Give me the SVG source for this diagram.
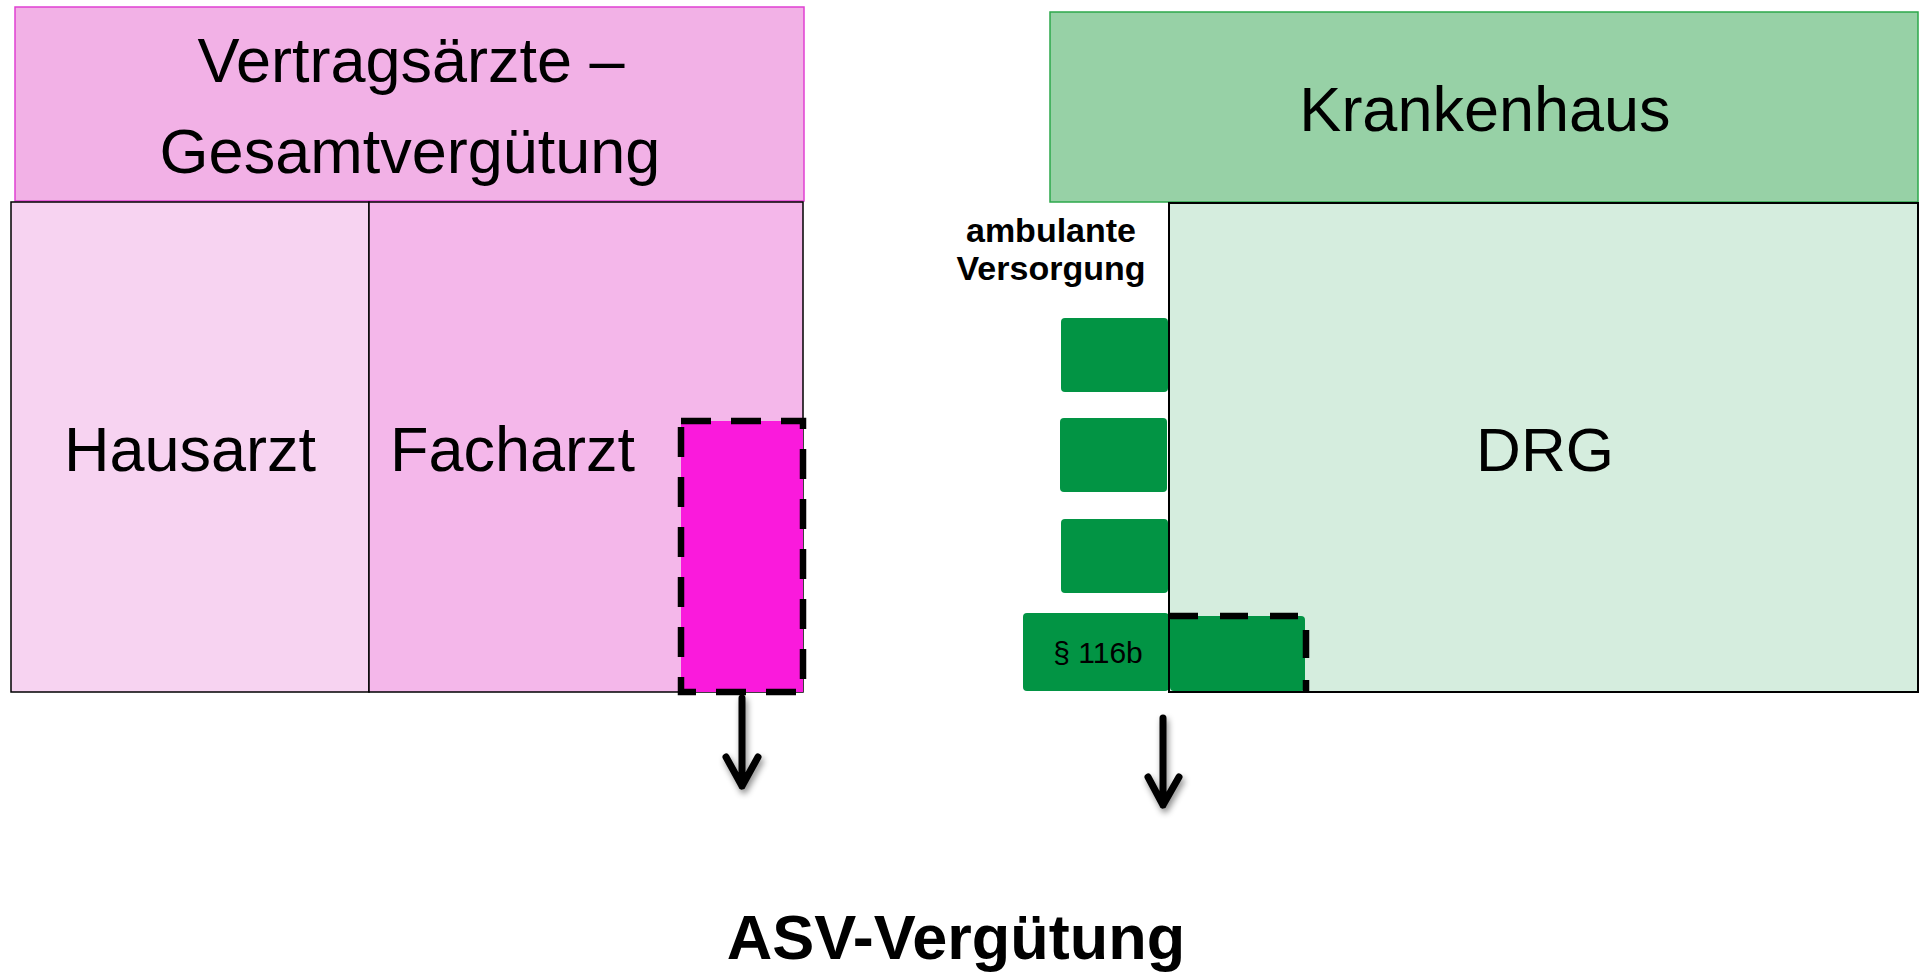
<svg xmlns="http://www.w3.org/2000/svg" width="1926" height="972" viewBox="0 0 1926 972">
  <defs>
    <filter id="shadow" x="-50%" y="-50%" width="200%" height="200%">
      <feDropShadow dx="2" dy="4" stdDeviation="3" flood-color="#000" flood-opacity="0.45"/>
    </filter>
    <style>
      .t { font-family: "Liberation Sans", Arial, sans-serif; fill: #000; }
      .big { font-size: 63px; }
      .bold { font-weight: bold; }
      .box { stroke: #000; stroke-width: 1.5; }
      .green { fill: #029444; }
      .dash { fill: none; stroke: #000; stroke-dasharray: 30 20; }
      .arrow { fill: none; stroke: #000; stroke-width: 7; stroke-linecap: round; stroke-linejoin: round; filter: url(#shadow); }
    </style>
  </defs>
  <rect width="1926" height="972" fill="#fff"/>

  <g id="vertragsaerzte">
    <rect x="15" y="7" width="789" height="194" fill="#F2B1E6" stroke="#E040D2" stroke-width="1.5"/>
    <text class="t big" x="411" y="82" text-anchor="middle">Vertragsärzte –</text>
    <text class="t big" x="410" y="173" text-anchor="middle">Gesamtvergütung</text>
  </g>

  <g id="hausarzt">
    <rect class="box" x="11" y="202" width="358" height="490" fill="#F7D3F1"/>
    <text class="t big" x="190" y="471" text-anchor="middle">Hausarzt</text>
  </g>

  <g id="facharzt">
    <rect class="box" x="369" y="202" width="434" height="490" fill="#F4B7EA"/>
    <text class="t big" x="390" y="471">Facharzt</text>
  </g>

  <g id="asv-facharzt">
    <rect x="681" y="421" width="122" height="271" fill="#FA1ADC"/>
    <rect class="dash" x="681" y="421" width="122" height="271" stroke-width="6.5"/>
  </g>

  <g id="krankenhaus">
    <rect x="1050" y="12" width="868" height="190" fill="#97D1A6" stroke="#2DA84B" stroke-width="1.5"/>
    <text class="t big" x="1485" y="131" text-anchor="middle">Krankenhaus</text>
  </g>

  <g id="drg">
    <rect x="1169" y="203" width="749" height="489" fill="#D5EDDE"/>
    <text class="t" font-size="62" x="1545" y="471" text-anchor="middle">DRG</text>
  </g>

  <g id="ambulante-versorgung">
    <text class="t bold" font-size="34" x="1051" y="242" text-anchor="middle">ambulante</text>
    <text class="t bold" font-size="34" x="1051" y="280" text-anchor="middle">Versorgung</text>
  </g>

  <g id="amb1"><rect class="green" x="1061" y="318" width="107" height="74" rx="4"/></g>
  <g id="amb2"><rect class="green" x="1060" y="418" width="107" height="74" rx="4"/></g>
  <g id="amb3"><rect class="green" x="1061" y="519" width="107" height="74" rx="4"/></g>
  <g id="p116b">
    <rect class="green" x="1023" y="613" width="146" height="78" rx="4"/>
    <text class="t" font-size="30" x="1098" y="663" text-anchor="middle">§ 116b</text>
  </g>

  <g id="asv-krankenhaus">
    <rect class="green" x="1170" y="616" width="135" height="75" rx="4"/>
    <path d="M1170,616 H1306 V691" fill="none" stroke="#000" stroke-width="6.5" stroke-dasharray="28 22"/>
  </g>

  <g id="drg-border">
    <rect x="1169" y="203" width="749" height="489" fill="none" stroke="#000" stroke-width="2"/>
  </g>

  <g id="connectors">
    <path class="arrow" d="M742,698 V786 M726,757 L742,786 L758,757"/>
    <path class="arrow" d="M1163,718 V805 M1148,777 L1163,805 L1179,777"/>
  </g>

  <g id="asv-verguetung">
    <text class="t bold" font-size="63" x="956" y="959" text-anchor="middle">ASV-Vergütung</text>
  </g>
</svg>
